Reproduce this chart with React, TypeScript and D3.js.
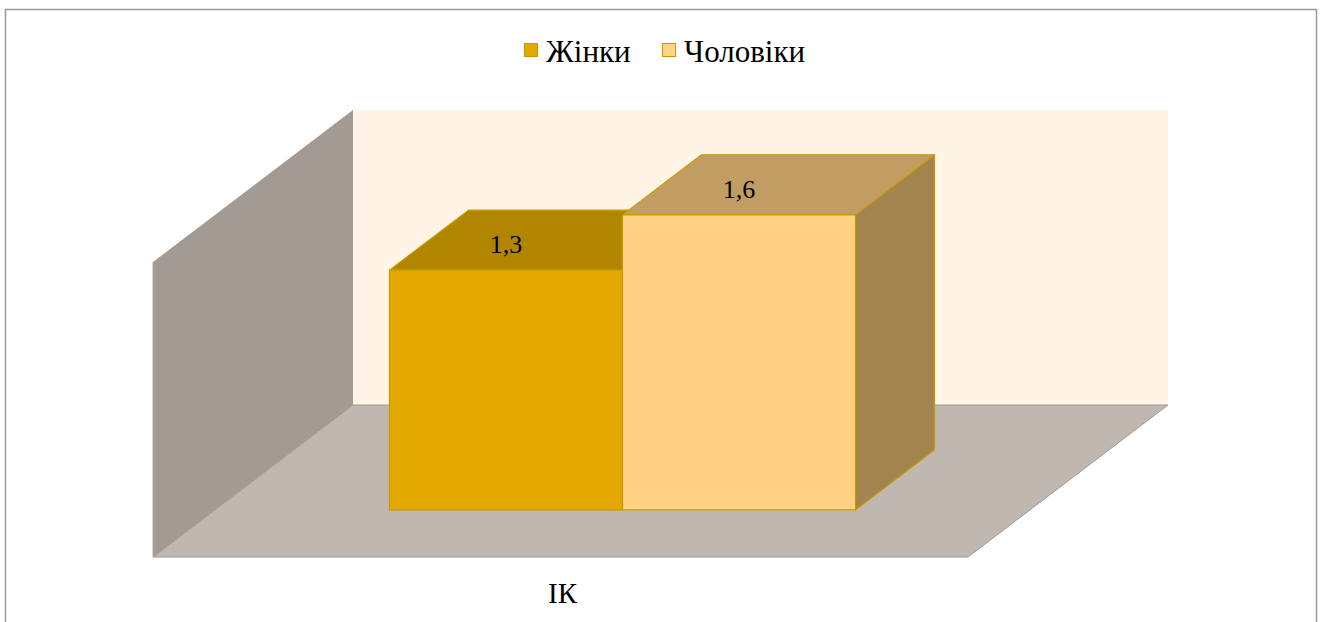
import * as d3 from 'd3';

const categories = ['ІК'];
const seriesNames = ['Жінки', 'Чоловіки'];
const values = [1.3, 1.6];
const valueLabels = ['1,3', '1,6'];

const W = 1321;
const H = 622;
const floorLeft = 153;
const floorRight = 968;
const floorFrontY = 557;
const depthX = 200; // horizontal shift of the full depth
const depthY = 152; // vertical shift of the full depth
const wallHeight = 295;
const barDepth0 = 0.31;
const barDepth1 = 0.705;

const colors = [
  { front: '#E2AA00', top: '#B08500', side: '#9A7A10', stroke: '#C89A00' },
  { front: '#FFD285', top: '#C29D63', side: '#A3844F', stroke: '#C89A00' },
];

const fontFamily = 'Liberation Serif, DejaVu Serif, serif';

const App = () => {
  const y = d3.scaleLinear().domain([0, 1.6]).range([0, wallHeight]);
  const x0 = d3
    .scaleBand()
    .domain(categories)
    .range([floorLeft, floorRight])
    .paddingOuter(0.3745)
    .paddingInner(0);
  const x1 = d3
    .scaleBand()
    .domain(seriesNames)
    .range([0, x0.bandwidth()])
    .padding(0);

  // project a point: x on front plane, depth fraction t, value v
  const P = (x: number, t: number, v: number) =>
    [x + t * depthX, floorFrontY - t * depthY - y(v)] as [number, number];
  const poly = (pts: [number, number][]) =>
    pts.map((p) => p.join(',')).join(' ');

  const yMax = y.domain()[1];

  const sideWall = [
    P(floorLeft, 0, 0),
    P(floorLeft, 0, yMax),
    P(floorLeft, 1, yMax),
    P(floorLeft, 1, 0),
  ];
  const backWall = [
    P(floorLeft, 1, 0),
    P(floorLeft, 1, yMax),
    P(floorRight, 1, yMax),
    P(floorRight, 1, 0),
  ];
  const floor = [
    P(floorLeft, 0, 0),
    P(floorLeft, 1, 0),
    P(floorRight, 1, 0),
    P(floorRight, 0, 0),
  ];

  return (
    <div style={{ position: 'fixed', left: 0, top: 0 }}>
      <svg width={W} height={H} style={{ display: 'block' }} fontFamily={fontFamily}>
        <rect x={0} y={0} width={W} height={H} fill="#fff" />
        <rect
          x={5.5}
          y={9.5}
          width={1311}
          height={H}
          fill="#fff"
          stroke="#9a9a9a"
          strokeWidth={1.5}
        />

        {/* legend */}
        {seriesNames.map((s, i) => {
          const lx = i === 0 ? 524 : 662;
          return (
            <g key={s}>
              <rect
                x={lx + 0.5}
                y={43.5}
                width={13}
                height={13}
                fill={colors[i].front}
                stroke={colors[i].stroke}
              />
              <text x={lx + 22} y={62} fontSize={31} fill="#000">
                {s}
              </text>
            </g>
          );
        })}

        {/* walls and floor */}
        <polygon points={poly(backWall)} fill="#FFF4E5" />
        <polygon points={poly(sideWall)} fill="#A39A94" />
        <polygon points={poly(floor)} fill="#C0B8B0" />
        <polyline
          points={poly([P(floorLeft, 0, 0), P(floorLeft, 1, 0), P(floorRight, 1, 0), P(floorRight, 0, 0), P(floorLeft, 0, 0)])}
          fill="none"
          stroke="#999"
          strokeWidth={1}
        />
        <line
          x1={floorLeft}
          x2={floorLeft}
          y1={P(floorLeft, 0, yMax)[1]}
          y2={floorFrontY}
          stroke="#b0a8a2"
          strokeWidth={1}
        />

        {/* bars */}
        {categories.map((c) =>
          seriesNames.map((s, i) => {
            const xl = (x0(c) ?? 0) + (x1(s) ?? 0);
            const xr = xl + x1.bandwidth();
            const v = values[i];
            const col = colors[i];
            const front = [P(xl, barDepth0, 0), P(xl, barDepth0, v), P(xr, barDepth0, v), P(xr, barDepth0, 0)];
            const top = [P(xl, barDepth0, v), P(xl, barDepth1, v), P(xr, barDepth1, v), P(xr, barDepth0, v)];
            const side = [P(xr, barDepth0, 0), P(xr, barDepth0, v), P(xr, barDepth1, v), P(xr, barDepth1, 0)];
            const frontTop = P((xl + xr) / 2, barDepth0, v);
            const topMid = P((xl + xr) / 2, (barDepth0 + barDepth1) / 2, v);
            return (
              <g key={c + s}>
                <polygon points={poly(side)} fill={col.side} stroke={col.stroke} strokeWidth={1.2} strokeLinejoin="round" />
                <polygon points={poly(top)} fill={col.top} stroke={col.stroke} strokeWidth={1.2} strokeLinejoin="round" />
                <polygon points={poly(front)} fill={col.front} stroke={col.stroke} strokeWidth={1.2} strokeLinejoin="round" />
                <text
                  x={frontTop[0]}
                  y={topMid[1] + 13}
                  fontSize={26}
                  textAnchor="middle"
                  fill="#000"
                >
                  {valueLabels[i]}
                </text>
              </g>
            );
          })
        )}

        {/* category label */}
        {categories.map((c) => (
          <text
            key={c}
            x={(floorLeft + floorRight) / 2 + 2}
            y={603}
            fontSize={29}
            textAnchor="middle"
            fill="#000"
          >
            {c}
          </text>
        ))}
      </svg>
    </div>
  );
};

export default App;
